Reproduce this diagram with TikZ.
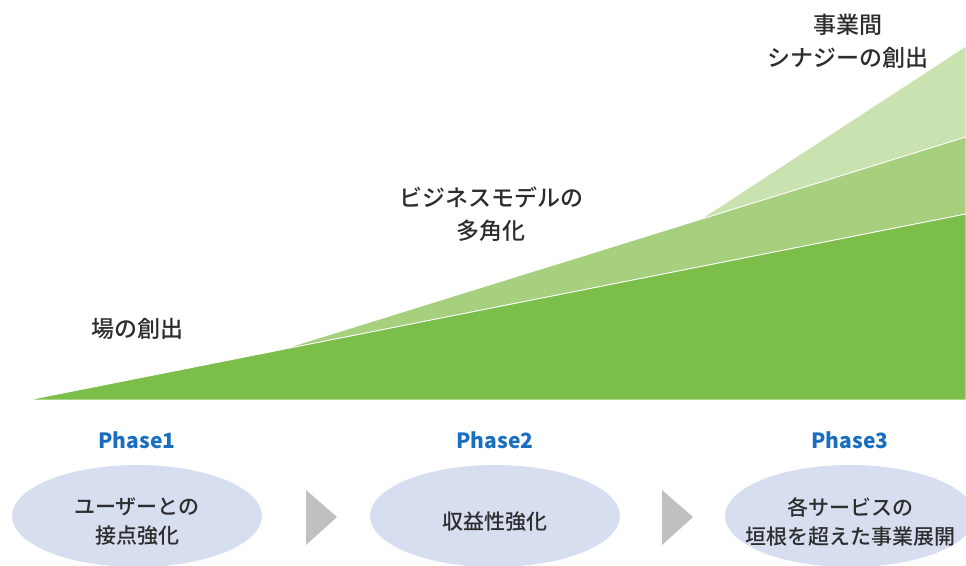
\documentclass[tikz,border=0pt]{standalone}
\usepackage{fontspec}
\setmainfont{Noto Sans CJK JP}
\newfontfamily\jpmed{Noto Sans CJK JP Medium}
\usepackage{xcolor}
\usepackage{tikz}
\usetikzlibrary{shapes.geometric}

\definecolor{greenA}{RGB}{123,190,74}
\definecolor{greenB}{RGB}{166,208,125}
\definecolor{greenC}{RGB}{201,226,175}
\definecolor{phaseblue}{RGB}{26,110,192}
\definecolor{ovalfill}{RGB}{214,222,240}
\definecolor{arrowgray}{RGB}{192,192,192}
\definecolor{textgray}{RGB}{45,45,45}

\tikzset{
	stagetext/.style={text=textgray, align=center, font=\fontsize{23}{33}\selectfont\jpmed},
	phasetitle/.style={text=phaseblue, font=\fontsize{21}{25}\selectfont\bfseries},
	oval/.style={ellipse, fill=ovalfill, minimum width=250, minimum height=102, inner sep=0},
	ovaltext/.style={text=textgray, align=center, font=\fontsize{21}{29}\selectfont\jpmed}
}

\begin{document}
\begin{tikzpicture}[x=1pt,y=1pt]

\useasboundingbox (0,0) rectangle (966,565);
\clip (0,0) rectangle (966,565);

\coordinate (o) at (28,165);
\coordinate (a) at (280,215);
\coordinate (b) at (700,345.4);
\coordinate (d1) at (966,351);
\coordinate (d2) at (966,428);
\coordinate (d3) at (966,519);
\coordinate (e) at (966,165);

\filldraw[fill=greenC, draw=white, line width=0.8] (b)--(d3)--(d2)--cycle;
\filldraw[fill=greenB, draw=white, line width=0.8] (a)--(d2)--(d1)--cycle;
\filldraw[fill=greenA, draw=white, line width=0.8] (o)--(d1)--(e)--cycle;

\node[stagetext] (stage1) at (137,236) {場の創出};
\node[stagetext] (stage2) at (491,351) {ビジネスモデルの\\多角化};
\node[stagetext] (stage3) at (848,524) {事業間\\シナジーの創出};

\foreach \i/\x/\txt in {1/137/{ユーザーとの\\接点強化}, 2/495/{収益性強化}, 3/850/{各サービスの\\垣根を超えた事業展開}}{
	\node[phasetitle] (phase\i) at (\x,125) {Phase\i};
	\node[oval] (oval\i) at (\x,49) {};
	\node[ovaltext] (task\i) at ([yshift=-6]oval\i.center) {\txt};
}

\foreach \x in {306,662}{
	\fill[arrowgray] (\x,75)--(\x+31,48)--(\x,20)--cycle;
}

\end{tikzpicture}
\end{document}
